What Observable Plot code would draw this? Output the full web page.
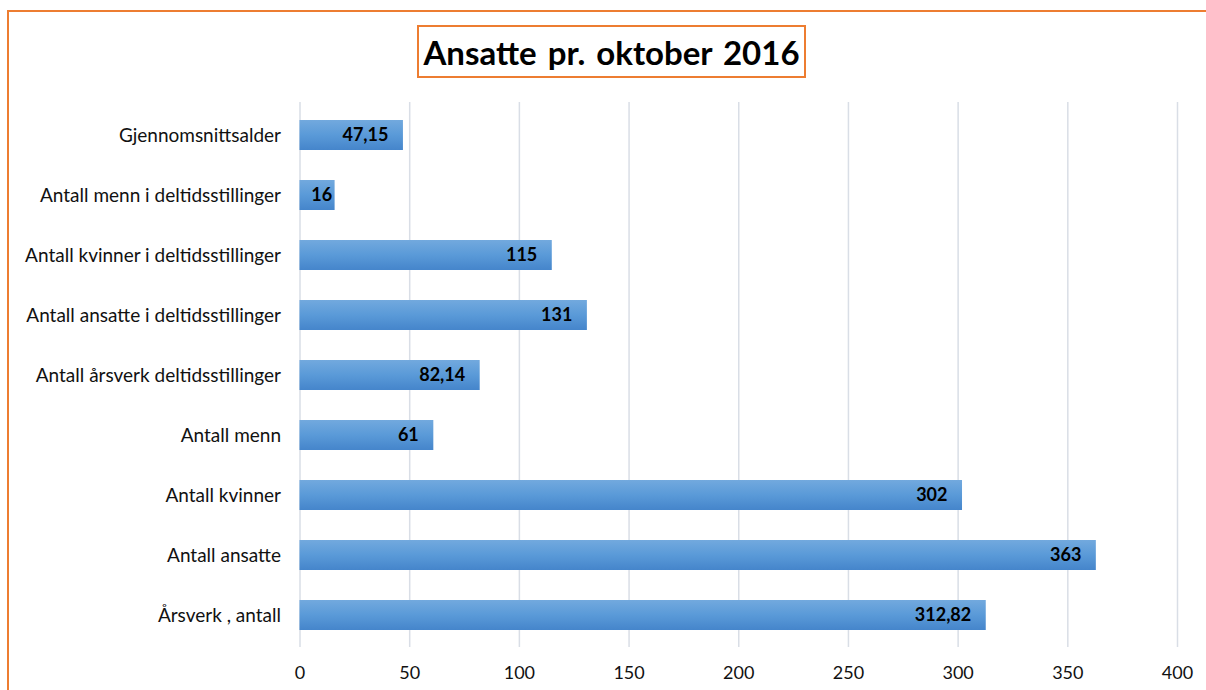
<!DOCTYPE html>
<html>
<head>
<meta charset="utf-8">
<script src="https://cdn.jsdelivr.net/npm/d3@7"></script>
<script src="https://cdn.jsdelivr.net/npm/@observablehq/plot@0.6"></script>
<style>
  html, body { margin: 0; padding: 0; background: #fff; overflow: hidden; }
  #wrap { position: relative; width: 1206px; height: 690px; overflow: hidden; font-family: Lato, "Noto Sans", sans-serif; }
  #frame { position: absolute; left: 7px; top: 10px; width: 1400px; height: 900px; border: 2px solid #ED7D31; box-sizing: border-box; }
  #title { position: absolute; left: 417px; top: 25px; width: 389px; height: 53px; border: 2px solid #ED7D31; box-sizing: border-box;
           display: flex; align-items: center; justify-content: center; font-weight: bold; font-size: 33px; color: #000; background: #fff; word-spacing: 3px; }
  #chart { position: absolute; left: 0; top: 0; }
</style>
</head>
<body>
<div id="wrap">
  <div id="frame"></div>
  <div id="chart"></div>
  <div id="title">Ansatte pr. oktober 2016</div>
</div>
<script>
const categories = [
  "Gjennomsnittsalder",
  "Antall menn i deltidsstillinger",
  "Antall kvinner i deltidsstillinger",
  "Antall ansatte i deltidsstillinger",
  "Antall årsverk deltidsstillinger",
  "Antall menn",
  "Antall kvinner",
  "Antall ansatte",
  "Årsverk , antall"
];
const values = [47.15, 16, 115, 131, 82.14, 61, 302, 363, 312.82];
const xTicks = [0, 50, 100, 150, 200, 250, 300, 350, 400];

const data = categories.map((c, i) => ({category: c, value: values[i]}));
const fmt = v => String(v).replace(".", ",");

const gradientDefs = () => {
  const defs = d3.create("svg:defs");
  const g = defs.append("linearGradient").attr("id", "barGrad").attr("x1", 0).attr("y1", 0).attr("x2", 0).attr("y2", 1);
  g.append("stop").attr("offset", "0%").attr("stop-color", "#72a9de");
  g.append("stop").attr("offset", "50%").attr("stop-color", "#5a9ad8");
  g.append("stop").attr("offset", "100%").attr("stop-color", "#4585cb");
  return defs.node();
};

const labelOpts = {x: "value", y: "category", text: d => fmt(d.value), textAnchor: "end", fontWeight: "bold", fontSize: 18, fill: "#000"};

const plot = Plot.plot({
  width: 1206,
  height: 690,
  marginLeft: 299.5,
  marginRight: 29,
  marginTop: 102,
  marginBottom: 43,
  style: {fontFamily: "Lato, 'Noto Sans', sans-serif", fontSize: "18px", color: "#111", background: "transparent"},
  x: {domain: [0, 400], ticks: xTicks, label: null},
  y: {domain: categories, paddingInner: 0.5, paddingOuter: 0.25, label: null},
  marks: [
    gradientDefs,
    Plot.ruleX(xTicks, {stroke: "#d9dee6", strokeWidth: 1.5}),
    Plot.barX(data, {x: "value", y: "category", fill: "url(#barGrad)"}),
    Plot.text(data, {...labelOpts, filter: d => d.value >= 30, dx: -15}),
    Plot.text(data, {...labelOpts, filter: d => d.value < 30, dx: -3}),
    Plot.axisX(xTicks, {tickSize: 0, tickPadding: 19, fontSize: 18, fill: "#111"}),
    Plot.axisY({tickSize: 0, tickPadding: 19, fontSize: 19, fill: "#111"})
  ]
});
document.getElementById("chart").appendChild(plot);
</script>
</body>
</html>
